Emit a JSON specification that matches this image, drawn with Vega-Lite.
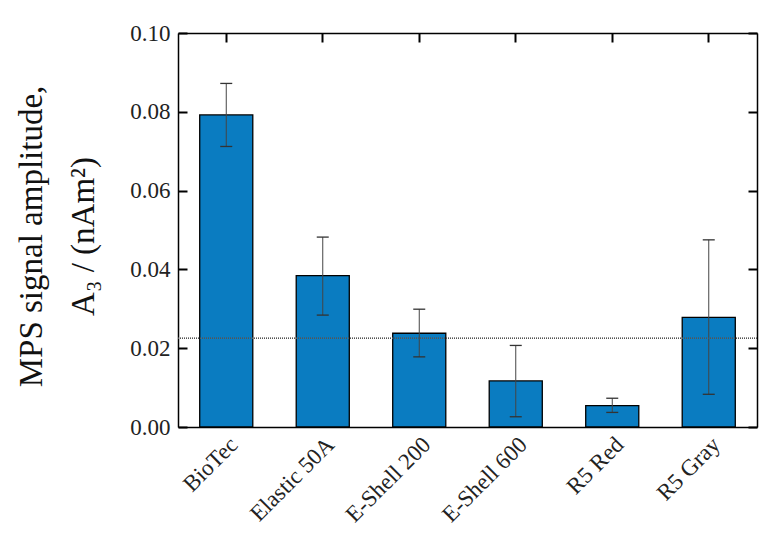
{
  "$schema": "https://vega.github.io/schema/vega-lite/v6.json",
  "autosize": "none",
  "padding": {"left": 178, "top": 33, "right": 16, "bottom": 115},
  "width": 579,
  "height": 394,
  "config": {
    "view": {"stroke": null}
  },
  "data": {
    "values": [
      {"sample": "BioTec", "a3": 0.0792, "lo": 0.0712, "hi": 0.0872},
      {"sample": "Elastic 50A", "a3": 0.0384, "lo": 0.0284, "hi": 0.0482},
      {"sample": "E-Shell 200", "a3": 0.0238, "lo": 0.0178, "hi": 0.0299},
      {"sample": "E-Shell 600", "a3": 0.0117, "lo": 0.0026, "hi": 0.0207},
      {"sample": "R5 Red", "a3": 0.0054, "lo": 0.0037, "hi": 0.0073},
      {"sample": "R5 Gray", "a3": 0.0278, "lo": 0.0083, "hi": 0.0475}
    ]
  },
  "resolve": {"axis": {"x": "independent", "y": "independent"}},
  "layer": [
    {
      "mark": {"type": "bar", "color": "#0a7cc1", "stroke": "black", "strokeWidth": 1.3},
      "encoding": {
        "x": {
          "field": "sample", "type": "nominal", "sort": null,
          "scale": {"paddingInner": 0.45, "paddingOuter": 0.225},
          "axis": {"orient": "bottom", "title": null, "grid": false, "labelAngle": -45, "labelFont": "Liberation Serif", "labelColor": "#222", "labelFontSize": 23, "tickSize": -9, "tickColor": "#000", "tickWidth": 2, "labelPadding": 15, "domainColor": "black", "domainWidth": 1.5}
        },
        "y": {
          "field": "a3", "type": "quantitative",
          "scale": {"domain": [0, 0.1], "nice": false},
          "axis": {
            "orient": "left",
            "grid": false,
            "values": [0, 0.02, 0.04, 0.06, 0.08, 0.1],
            "format": ".2f",
            "tickSize": -9,
            "tickColor": "#000",
            "tickWidth": 2,
            "labelFont": "Liberation Serif",
            "labelColor": "#222",
            "labelFontSize": 23,
            "labelPadding": 17,
            "domainColor": "black",
            "domainWidth": 1.5,
            "title": ["MPS signal amplitude,", "A₃ / (nAm²)"],
            "titleFont": "Liberation Serif",
            "titleFontSize": 33,
            "titleFontWeight": "normal",
            "titleColor": "#111",
            "titleLineHeight": 52,
            "titleBaseline": "top",
            "titleX": -163,
            "titleY": 203
          }
        }
      }
    },
    {
      "mark": {"type": "rule", "color": "#444", "strokeWidth": 1},
      "encoding": {
        "x": {"field": "sample", "type": "nominal", "sort": null, "axis": null},
        "y": {"field": "lo", "type": "quantitative", "axis": null},
        "y2": {"field": "hi"}
      }
    },
    {
      "mark": {"type": "tick", "color": "#333", "size": 12, "thickness": 1.3, "opacity": 1},
      "encoding": {
        "x": {"field": "sample", "type": "nominal", "sort": null, "axis": null},
        "y": {"field": "lo", "type": "quantitative", "axis": null}
      }
    },
    {
      "mark": {"type": "tick", "color": "#333", "size": 12, "thickness": 1.3, "opacity": 1},
      "encoding": {
        "x": {"field": "sample", "type": "nominal", "sort": null, "axis": null},
        "y": {"field": "hi", "type": "quantitative", "axis": null}
      }
    },
    {
      "mark": {"type": "rule", "color": "#555", "strokeWidth": 1, "strokeDash": [1, 1]},
      "encoding": {"y": {"datum": 0.0225, "type": "quantitative", "axis": null}}
    },
    {
      "mark": {"type": "tick", "opacity": 0},
      "encoding": {
        "x": {"field": "sample", "type": "nominal", "sort": null, "axis": {"orient": "top", "title": null, "grid": false, "labels": false, "tickSize": -9, "tickColor": "#000", "tickWidth": 2, "domainColor": "black", "domainWidth": 1.5}},
        "y": {
          "field": "a3", "type": "quantitative",
          "axis": {
            "orient": "right", "title": null, "grid": false, "labels": false,
            "values": [0, 0.02, 0.04, 0.06, 0.08, 0.1],
            "tickSize": -9,
            "tickColor": "#000",
            "tickWidth": 2,
            "domainColor": "black",
            "domainWidth": 1.5
          }
        }
      }
    }
  ]
}
